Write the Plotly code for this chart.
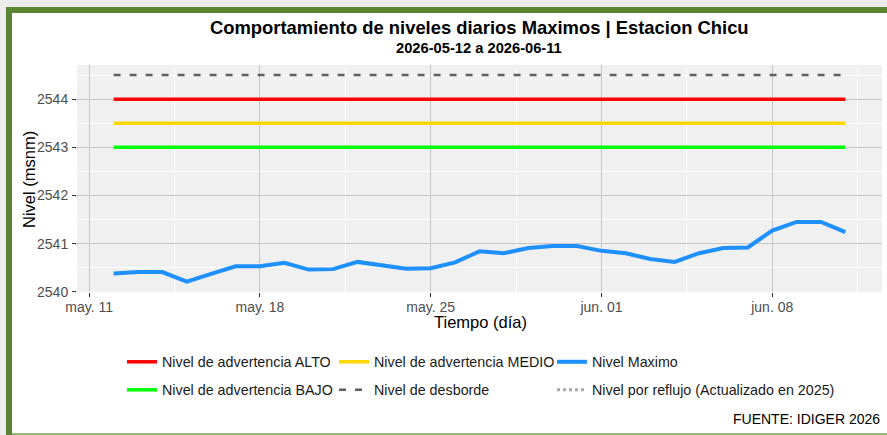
import plotly.graph_objects as go

# ---- data ---------------------------------------------------------------
fechas = [
    "2026-05-12", "2026-05-13", "2026-05-14", "2026-05-15", "2026-05-16",
    "2026-05-17", "2026-05-18", "2026-05-19", "2026-05-20", "2026-05-21",
    "2026-05-22", "2026-05-23", "2026-05-24", "2026-05-25", "2026-05-26",
    "2026-05-27", "2026-05-28", "2026-05-29", "2026-05-30", "2026-05-31",
    "2026-06-01", "2026-06-02", "2026-06-03", "2026-06-04", "2026-06-05",
    "2026-06-06", "2026-06-07", "2026-06-08", "2026-06-09", "2026-06-10",
    "2026-06-11",
]
nivel_maximo = [
    2540.38, 2540.41, 2540.41, 2540.21, 2540.37,
    2540.53, 2540.53, 2540.60, 2540.46, 2540.47,
    2540.62, 2540.54, 2540.48, 2540.49, 2540.61,
    2540.84, 2540.80, 2540.91, 2540.95, 2540.95,
    2540.85, 2540.80, 2540.68, 2540.62, 2540.80,
    2540.91, 2540.92, 2541.27, 2541.45, 2541.45,
    2541.24,
]
nivel_alto = 2544.0
nivel_medio = 2543.5
nivel_bajo = 2543.0
nivel_desborde = 2544.5

x_tickvals = ["2026-05-11", "2026-05-18", "2026-05-25", "2026-06-01", "2026-06-08"]
x_ticktext = ["may. 11", "may. 18", "may. 25", "jun. 01", "jun. 08"]
x_minorvals = ["2026-05-14 12:00", "2026-05-21 12:00", "2026-05-28 12:00",
               "2026-06-04 12:00", "2026-06-11 12:00"]
y_tickvals = [2540, 2541, 2542, 2543, 2544]
y_ticktext = ["2540", "2541", "2542", "2543", "2544"]
y_minorvals = [2540.5, 2541.5, 2542.5, 2543.5, 2544.5]

# ---- layout geometry (pixels) -------------------------------------------
WIDTH, HEIGHT = 887, 435
L, R, T, B = 77, 5, 65, 143
PW = WIDTH - L - R
PH = HEIGHT - T - B
FONT = "Liberation Sans, Arial, sans-serif"


def px_x(px):
    return (px - L) / PW


def px_y(py):
    return (T + PH - py) / PH


fig = go.Figure()

series = [
    ("Nivel de advertencia ALTO", [nivel_alto] * len(fechas), "#ff0000", "solid", 3.5, "legend"),
    ("Nivel de advertencia MEDIO", [nivel_medio] * len(fechas), "#ffd700", "solid", 3.5, "legend2"),
    ("Nivel de advertencia BAJO", [nivel_bajo] * len(fechas), "#00ff00", "solid", 3.5, "legend4"),
    ("Nivel de desborde", [nivel_desborde] * len(fechas), "#5f5f5f", "7px,9px", 2.5, "legend5"),
    ("Nivel por reflujo (Actualizado en 2025)", [None] * len(fechas), "#a8a8a8", "dot", 3, "legend6"),
    ("Nivel Maximo", nivel_maximo, "#1e90ff", "solid", 4, "legend3"),
]
for name, ys, color, dash, width, leg in series:
    fig.add_trace(go.Scatter(
        x=fechas, y=ys, mode="lines", name=name,
        line=dict(color=color, width=width, dash=dash),
        legend=leg, showlegend=True, hoverinfo="skip",
    ))

# one legend box per entry so the 2x3 key grid sits exactly where wanted
legend_pos = {
    "legend": (122, 362), "legend2": (334, 362), "legend3": (552, 362),
    "legend4": (122, 390), "legend5": (334, 390), "legend6": (552, 390),
}
legend_layout = {}
for key, (lx, ly) in legend_pos.items():
    legend_layout[key] = dict(
        x=px_x(lx), y=px_y(ly), xanchor="left", yanchor="middle",
        orientation="h", bgcolor="rgba(0,0,0,0)", borderwidth=0,
        font=dict(family=FONT, size=14.3, color="#1a1a1a"),
        itemwidth=30,
    )

axis_common = dict(
    showline=False, zeroline=False, ticks="outside", ticklen=4,
    tickcolor="#333333", tickwidth=1,
    tickfont=dict(family=FONT, size=14, color="#4d4d4d"),
    showgrid=True, gridcolor="#c6c6c6", gridwidth=1,
)

fig.update_layout(
    width=WIDTH, height=HEIGHT,
    margin=dict(l=L, r=R, t=T, b=B, pad=0),
    paper_bgcolor="#ffffff", plot_bgcolor="#f0f0f0",
    font=dict(family=FONT),
    xaxis=dict(
        type="date", range=["2026-05-10 12:00", "2026-06-12 12:00"],
        tickmode="array", tickvals=x_tickvals, ticktext=x_ticktext,
        minor=dict(tickmode="array", tickvals=x_minorvals, showgrid=True,
                   gridcolor="#ffffff", gridwidth=1, ticks=""),
        ticklabelstandoff=-2,
        **axis_common,
    ),
    yaxis=dict(
        range=[2539.995, 2544.71],
        tickmode="array", tickvals=y_tickvals, ticktext=y_ticktext,
        minor=dict(tickmode="array", tickvals=y_minorvals, showgrid=True,
                   gridcolor="#ffffff", gridwidth=1, ticks=""),
        ticklabelstandoff=1,
        **axis_common,
    ),
    showlegend=True,
    **legend_layout,
)

annotations = [
    dict(text="<b>Comportamiento de niveles diarios Maximos | Estacion Chicu</b>",
         x=px_x(479), y=px_y(27), font=dict(size=18.4, color="#000000")),
    dict(text="<b>2026-05-12 a 2026-06-11</b>",
         x=px_x(479), y=px_y(48), font=dict(size=14.7, color="#000000")),
    dict(text="Nivel (msnm)", x=px_x(29), y=px_y(180), textangle=-90,
         font=dict(size=16.5, color="#000000")),
    dict(text="Tiempo (día)", x=px_x(480), y=px_y(322),
         font=dict(size=16.5, color="#000000")),
    dict(text="FUENTE: IDIGER 2026", x=px_x(882), y=px_y(419), xanchor="right",
         font=dict(size=14, color="#000000")),
]
for a in annotations:
    a.setdefault("xanchor", "center")
    a.update(xref="paper", yref="paper", yanchor="middle", showarrow=False)
    a["font"]["family"] = FONT
fig.update_layout(annotations=annotations)

# card frame around the chart
frame = [
    (0, 0, WIDTH, 7, "#ececec"),
    (0, 0, 6, HEIGHT, "#ececec"),
    (6, 7, 12, HEIGHT, "#5a8434"),
    (6, 7, WIDTH, 13, "#5a8434"),
    (12, 433, WIDTH, HEIGHT, "#93bb74"),
]
for x0, y0, x1, y1, col in frame:
    fig.add_shape(type="rect", xref="paper", yref="paper",
                  x0=px_x(x0), x1=px_x(x1), y0=px_y(y0), y1=px_y(y1),
                  fillcolor=col, line=dict(width=0), layer="above")

fig.write_html("out.html")
